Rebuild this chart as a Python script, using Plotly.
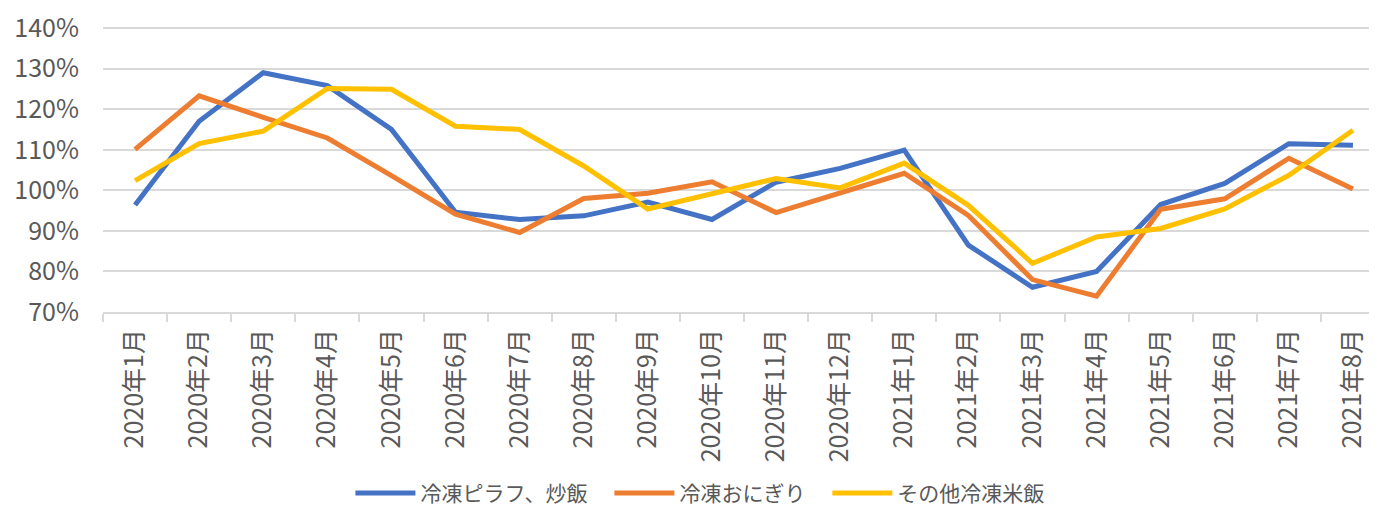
import plotly.graph_objects as go

months = [
    "2020年1月", "2020年2月", "2020年3月", "2020年4月", "2020年5月", "2020年6月",
    "2020年7月", "2020年8月", "2020年9月", "2020年10月", "2020年11月", "2020年12月",
    "2021年1月", "2021年2月", "2021年3月", "2021年4月", "2021年5月", "2021年6月",
    "2021年7月", "2021年8月",
]

# 前年同月比 (%)
pilaf = [96.4, 117.0, 129.0, 125.8, 115.0, 94.6, 92.8, 93.7, 97.1, 92.8,
         102.0, 105.4, 109.9, 86.5, 76.1, 80.0, 96.5, 101.7, 111.5, 111.1]
onigiri = [110.1, 123.3, 118.0, 112.9, 103.6, 94.1, 89.6, 98.0, 99.3, 102.1,
           94.5, 99.3, 104.2, 93.8, 78.0, 73.9, 95.3, 97.9, 107.9, 100.3]
other_rice = [102.4, 111.5, 114.6, 125.1, 124.9, 115.8, 115.0, 106.0, 95.4, 99.3,
              102.9, 100.6, 106.7, 96.3, 82.0, 88.5, 90.6, 95.4, 103.7, 114.8]

y_ticks = [70, 80, 90, 100, 110, 120, 130, 140]
y_labels = ["70%", "80%", "90%", "100%", "110%", "120%", "130%", "140%"]

series = [
    ("冷凍ピラフ、炒飯", pilaf, "#4472C4", "legend", 0.193),
    ("冷凍おにぎり", onigiri, "#ED7D31", "legend2", 0.395),
    ("その他冷凍米飯", other_rice, "#FFC000", "legend3", 0.565),
]

FONT = "Noto Sans CJK JP, Meiryo, sans-serif"
GREY = "#595959"
GRID = "#D9D9D9"

fig = go.Figure()
legends = {}
for name, vals, color, leg, lx in series:
    fig.add_trace(go.Scatter(
        x=months, y=vals, name=name, mode="lines", showlegend=True,
        line=dict(color=color, width=5), legend=leg,
    ))
    # one legend per series so the gaps can match the original
    legends[leg] = dict(
        orientation="h", x=lx, xanchor="left", y=-0.63, yanchor="middle",
        font=dict(size=21, color=GREY), itemwidth=60,
        bgcolor="rgba(0,0,0,0)",
    )

fig.update_layout(
    width=1377, height=517,
    margin=dict(l=95, r=0, t=12, b=213),
    plot_bgcolor="white", paper_bgcolor="white",
    font=dict(family=FONT, color=GREY),
    showlegend=True,
    **legends,
)
# top gridline (plotly drops it near the edge)
fig.add_shape(type="line", xref="paper", x0=0, x1=1, yref="y",
              y0=y_ticks[-1], y1=y_ticks[-1], line=dict(color=GRID, width=2),
              layer="below")
fig.update_xaxes(
    type="category", range=[-0.5, 19.5],
    showgrid=False, showline=True, linecolor=GRID, linewidth=2,
    ticks="outside", tickson="boundaries", ticklen=8, tickcolor=GRID, tickwidth=2,
    tickangle=-90, tickfont=dict(size=25, color=GREY), ticklabelstandoff=5,
)
fig.update_yaxes(
    range=[70, 141], tickmode="array", tickvals=y_ticks, ticktext=y_labels,
    showgrid=True, gridcolor=GRID, gridwidth=2,
    zeroline=False, showline=False, ticklabeloverflow="allow",
    tickfont=dict(size=25, color=GREY), ticklabelstandoff=23,
)

fig.write_html("out.html")
